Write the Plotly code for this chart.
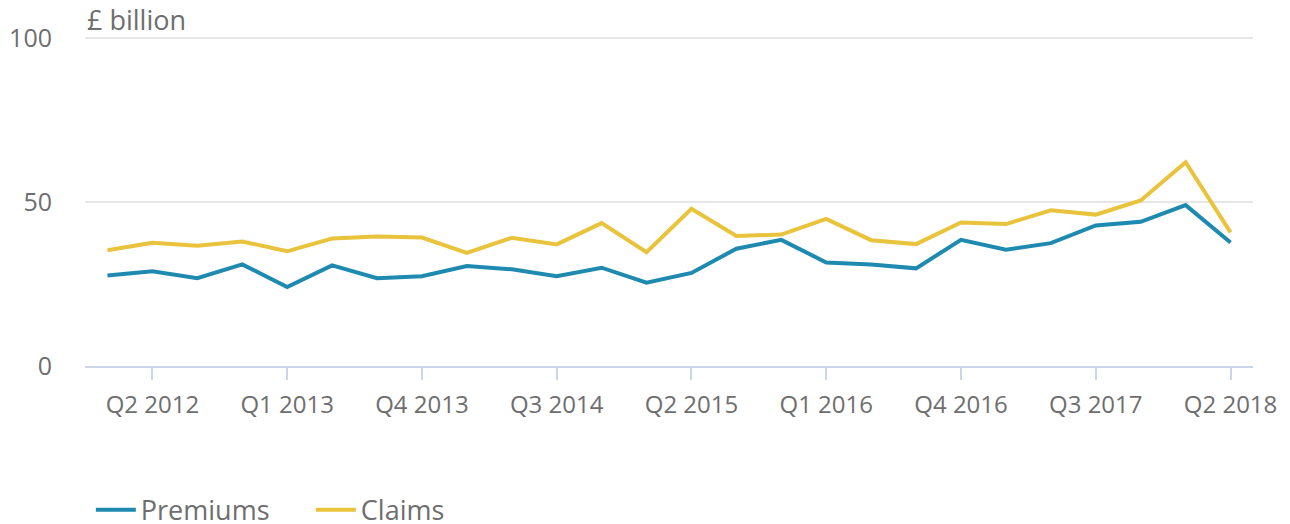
"""Insurance premiums and claims, quarterly, £ billion."""

import plotly.graph_objects as go

# Quarterly periods Q1 2012 .. Q2 2018
QUARTERS = [f"Q{q} {y}" for y in range(2012, 2019) for q in range(1, 5)][:26]

PREMIUMS = [
    27.6, 28.9, 26.8, 31.0, 24.1, 30.7, 26.8, 27.4, 30.5,
    29.5, 27.4, 30.0, 25.4, 28.4, 35.8, 38.5, 31.6, 31.0,
    29.8, 38.5, 35.5, 37.5, 42.9, 44.0, 49.1, 37.7,
]
CLAIMS = [
    35.3, 37.6, 36.7, 38.0, 35.0, 38.9, 39.5, 39.2, 34.5,
    39.1, 37.1, 43.6, 34.7, 48.0, 39.7, 40.1, 44.9, 38.4,
    37.2, 43.8, 43.3, 47.5, 46.2, 50.5, 62.2, 40.8,
]

TICK_LABELS = QUARTERS[1::3]
Y_TICKS = [0, 50, 100]

COLORS = {"Premiums": "#1f8ab0", "Claims": "#e8c33b"}
TEXT_GREY = "#6e6e6e"
AXIS_BLUE = "#ccd6eb"
FONT = "Open Sans"

fig = go.Figure()
for name, values in (("Premiums", PREMIUMS), ("Claims", CLAIMS)):
    fig.add_trace(go.Scatter(
        x=QUARTERS, y=values, name=name, mode="lines",
        line=dict(color=COLORS[name], width=4),
        hovertemplate="%{x}: £%{y}bn<extra>" + name + "</extra>",
    ))

# page body keeps an 8px default margin, so the figure is sized to fit
fig.update_layout(
    width=1282, height=516,
    margin=dict(l=77, r=37, t=29, b=158, autoexpand=False),
    paper_bgcolor="white", plot_bgcolor="white",
    font=dict(family=FONT, size=24, color=TEXT_GREY),
    showlegend=True,
    legend=dict(
        orientation="h", x=0.005, xanchor="left", y=-0.438, yanchor="middle",
        font=dict(size=27, color=TEXT_GREY), itemwidth=40,
        entrywidthmode="pixels", entrywidth=165,
    ),
    annotations=[dict(
        text="£ billion", xref="paper", yref="paper", x=0, y=1,
        xanchor="left", yanchor="bottom", yshift=-3, showarrow=False,
        font=dict(size=27, color=TEXT_GREY),
    )],
)

fig.update_xaxes(
    type="category", range=[-0.5, len(QUARTERS) - 0.5],
    tickmode="array", tickvals=TICK_LABELS, ticktext=TICK_LABELS,
    ticks="outside", ticklen=12, tickwidth=2, tickcolor=AXIS_BLUE,
    showline=True, linecolor=AXIS_BLUE, linewidth=2,
    showgrid=False, zeroline=False, ticklabelstandoff=4, automargin=False,
)
fig.update_yaxes(
    range=[0, 100.4], tickmode="array", tickvals=Y_TICKS,
    tickfont=dict(size=25),
    showgrid=True, gridcolor="#e6e6e6", gridwidth=2,
    zeroline=False, showline=False, automargin=False,
    ticks="outside", ticklen=27, tickcolor="rgba(0,0,0,0)",
)

fig.write_html("out.html")
